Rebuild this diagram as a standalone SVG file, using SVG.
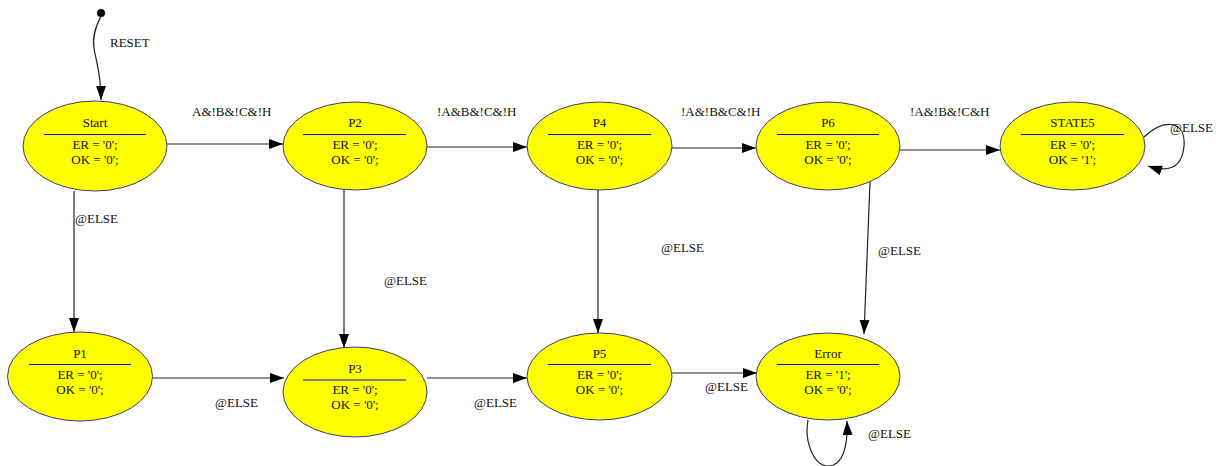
<svg xmlns="http://www.w3.org/2000/svg" width="1216" height="466" viewBox="0 0 1216 466">
  <style>
    .state ellipse { fill: #ffff00; stroke: #3a3a80; stroke-width: 1; }
    .state line { stroke: #0000ff; stroke-width: 1.2; }
    .state text { font-family: "Liberation Serif", "Times New Roman", serif; font-size: 13px; fill: #111; text-anchor: middle; }
    .edge { fill: none; stroke: #222; stroke-width: 1.2; }
    .lbl { font-family: "Liberation Serif", "Times New Roman", serif; font-size: 13px; fill: #111; }
  </style>
  <defs>
    <marker id="arrow" markerUnits="userSpaceOnUse" markerWidth="16" markerHeight="12" refX="14" refY="5" orient="auto">
      <path d="M0,0 L14,5 L0,10 z" fill="#000"/>
    </marker>
  </defs>
  <rect width="1216" height="466" fill="#ffffff"/>

  <!-- transitions -->
  <g id="connectors">
    <circle cx="101" cy="13" r="4" fill="#000"/>
    <path class="edge" d="M101,16 C96,26 92,36 94,48 C96,62 101,72 101,100" marker-end="url(#arrow)"/>
    <text class="lbl" x="110" y="47">RESET</text>

    <path class="edge" d="M167,144 L283,144" marker-end="url(#arrow)"/>
    <text class="lbl" x="192" y="116">A&amp;!B&amp;!C&amp;!H</text>

    <path class="edge" d="M427,147 L527,147" marker-end="url(#arrow)"/>
    <text class="lbl" x="437" y="116">!A&amp;B&amp;!C&amp;!H</text>

    <path class="edge" d="M672,148 L756,148" marker-end="url(#arrow)"/>
    <text class="lbl" x="681" y="116">!A&amp;!B&amp;C&amp;!H</text>

    <path class="edge" d="M900,150 L1000,150" marker-end="url(#arrow)"/>
    <text class="lbl" x="910" y="116">!A&amp;!B&amp;!C&amp;H</text>

    <path class="edge" d="M1144,137 C1164,118 1186,120 1184,146 C1182,170 1166,172 1148,166" marker-end="url(#arrow)"/>
    <text class="lbl" x="1170" y="132">@ELSE</text>

    <path class="edge" d="M74,191 L74,332" marker-end="url(#arrow)"/>
    <text class="lbl" x="75" y="223">@ELSE</text>

    <path class="edge" d="M344,190 L344,348" marker-end="url(#arrow)"/>
    <text class="lbl" x="384" y="285">@ELSE</text>

    <path class="edge" d="M598,190 L598,333" marker-end="url(#arrow)"/>
    <text class="lbl" x="661" y="252">@ELSE</text>

    <path class="edge" d="M870,182 L864,334" marker-end="url(#arrow)"/>
    <text class="lbl" x="878" y="255">@ELSE</text>

    <path class="edge" d="M152,378 L284,378" marker-end="url(#arrow)"/>
    <text class="lbl" x="215" y="407">@ELSE</text>

    <path class="edge" d="M427,378 L527,378" marker-end="url(#arrow)"/>
    <text class="lbl" x="474" y="407">@ELSE</text>

    <path class="edge" d="M672,373 L757,373" marker-end="url(#arrow)"/>
    <text class="lbl" x="705" y="391">@ELSE</text>

    <path class="edge" d="M808,420 C804,442 814,466 828,466 C843,466 848,446 847,421" marker-end="url(#arrow)"/>
    <text class="lbl" x="868" y="438">@ELSE</text>
  </g>

  <!-- states -->
  <g id="Start" class="state">
    <ellipse cx="95" cy="146" rx="72" ry="45"/>
    <text x="95" y="127">Start</text>
    <line x1="44" y1="134.5" x2="146" y2="134.5"/>
    <text x="95" y="149">ER = '0';</text>
    <text x="95" y="164">OK = '0';</text>
  </g>
  <g id="P2" class="state">
    <ellipse cx="355" cy="146" rx="72" ry="44"/>
    <text x="355" y="127">P2</text>
    <line x1="303" y1="134.5" x2="406" y2="134.5"/>
    <text x="355" y="149">ER = '0';</text>
    <text x="355" y="164">OK = '0';</text>
  </g>
  <g id="P4" class="state">
    <ellipse cx="599.5" cy="146" rx="72.5" ry="44"/>
    <text x="599.5" y="127">P4</text>
    <line x1="548" y1="134.5" x2="651" y2="134.5"/>
    <text x="599.5" y="149">ER = '0';</text>
    <text x="599.5" y="164">OK = '0';</text>
  </g>
  <g id="P6" class="state">
    <ellipse cx="828" cy="146" rx="72" ry="44"/>
    <text x="828" y="127">P6</text>
    <line x1="777" y1="134.5" x2="879" y2="134.5"/>
    <text x="828" y="149">ER = '0';</text>
    <text x="828" y="164">OK = '0';</text>
  </g>
  <g id="STATE5" class="state">
    <ellipse cx="1072.5" cy="146" rx="72.5" ry="44"/>
    <text x="1072.5" y="127">STATE5</text>
    <line x1="1021" y1="134.5" x2="1124" y2="134.5"/>
    <text x="1072.5" y="149">ER = '0';</text>
    <text x="1072.5" y="164">OK = '1';</text>
  </g>
  <g id="P1" class="state">
    <ellipse cx="80" cy="376.5" rx="72.5" ry="44.5"/>
    <text x="80" y="358">P1</text>
    <line x1="29" y1="364.5" x2="131" y2="364.5"/>
    <text x="80" y="379">ER = '0';</text>
    <text x="80" y="394">OK = '0';</text>
  </g>
  <g id="P3" class="state">
    <ellipse cx="355" cy="392" rx="72" ry="45"/>
    <text x="355" y="373">P3</text>
    <line x1="303" y1="380" x2="406" y2="380"/>
    <text x="355" y="394">ER = '0';</text>
    <text x="355" y="409">OK = '0';</text>
  </g>
  <g id="P5" class="state">
    <ellipse cx="599.5" cy="376.5" rx="72.5" ry="43.5"/>
    <text x="599.5" y="358">P5</text>
    <line x1="548" y1="364.5" x2="651" y2="364.5"/>
    <text x="599.5" y="379">ER = '0';</text>
    <text x="599.5" y="394">OK = '0';</text>
  </g>
  <g id="Error" class="state">
    <ellipse cx="828" cy="376.5" rx="72" ry="43.5"/>
    <text x="828" y="358">Error</text>
    <line x1="777" y1="364.5" x2="879" y2="364.5"/>
    <text x="828" y="379">ER = '1';</text>
    <text x="828" y="394">OK = '0';</text>
  </g>
</svg>
